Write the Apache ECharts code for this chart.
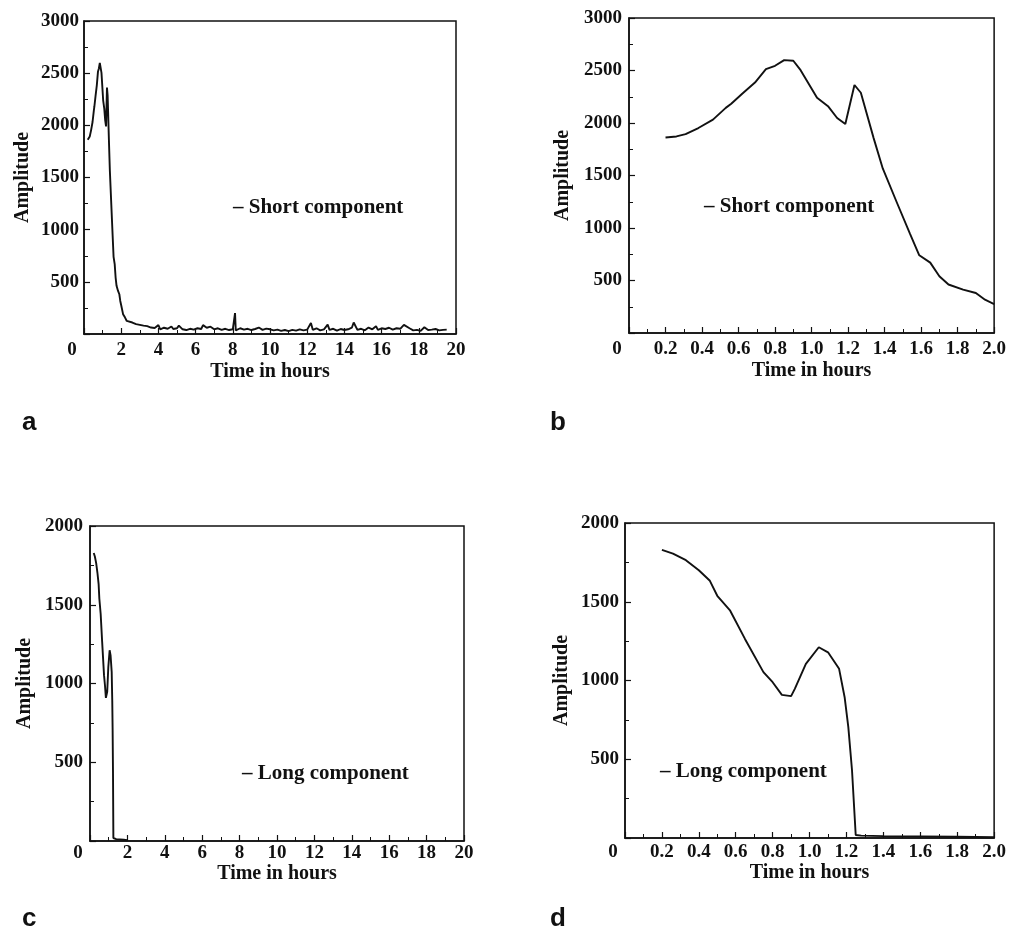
<!DOCTYPE html>
<html>
<head>
<meta charset="utf-8">
<script src="https://cdn.jsdelivr.net/npm/echarts@6/dist/echarts.min.js"></script>
<style>
  html, body { margin: 0; padding: 0; background: #ffffff; }
  #chart { width: 1009px; height: 929px; }
</style>
</head>
<body>
<div id="chart"></div>
<script>
// ---- Short component, first two hours (panel b, start of panel a) ----
const shortTime = [0.20, 0.26, 0.31, 0.38, 0.46, 0.53, 0.56, 0.62, 0.69, 0.75, 0.80, 0.85, 0.90, 0.94, 1.03, 1.09, 1.14, 1.185, 1.235, 1.27, 1.34, 1.39, 1.47, 1.54, 1.59, 1.65, 1.70, 1.75, 1.83, 1.90, 1.95, 2.00];
const shortAmp  = [1862, 1872, 1894, 1952, 2032, 2144, 2183, 2279, 2385, 2513, 2545, 2599, 2593, 2503, 2240, 2160, 2048, 1990, 2362, 2288, 1856, 1567, 1231, 942, 740, 670, 541, 462, 413, 381, 317, 276];

// ---- Short component, remaining hours (panel a) ----
const tailTime = [2.1, 2.2, 2.3, 2.4, 2.6, 2.8, 3.0, 3.2, 3.4, 3.6, 3.8, 4.0, 4.1, 4.3, 4.5, 4.7, 4.8, 5.0, 5.1, 5.3,
                  5.5, 5.7, 5.9, 6.1, 6.3, 6.4, 6.6, 6.8, 7.0, 7.2, 7.4, 7.6, 7.8, 8.0, 8.08, 8.12, 8.16, 8.4, 8.6, 8.8,
                  9.0, 9.2, 9.4, 9.6, 9.8, 10.0, 10.2, 10.4, 10.6, 10.8, 11.0, 11.2, 11.4, 11.6, 11.8, 12.0, 12.2, 12.3, 12.5, 12.7,
                  12.9, 13.1, 13.2, 13.4, 13.6, 13.8, 14.0, 14.2, 14.4, 14.5, 14.7, 14.9, 15.1, 15.3, 15.5, 15.7, 15.8, 16.0, 16.2, 16.4,
                  16.6, 16.8, 17.0, 17.2, 17.3, 17.5, 17.7, 17.9, 18.1, 18.3, 18.5, 18.7, 18.9, 19.1, 19.3, 19.5];
const tailAmp  = [190, 160, 125, 135, 110, 95, 88, 80, 75, 62, 58, 85, 45, 60, 50, 72, 48, 55, 80, 45,
                  38, 50, 42, 55, 48, 85, 60, 70, 45, 55, 40, 50, 38, 45, 40, 200, 35, 55, 42, 50,
                  38, 48, 62, 40, 52, 45, 35, 42, 30, 38, 28, 40, 32, 45, 35, 42, 105, 40, 55, 35,
                  45, 90, 40, 50, 32, 48, 38, 45, 60, 110, 40, 50, 35, 62, 45, 75, 40, 55, 48, 60,
                  42, 55, 50, 88, 70, 55, 35, 40, 30, 65, 38, 42, 48, 35, 40, 42];

// ---- Long component (panels c and d) ----
const longTime = [0.20, 0.26, 0.33, 0.40, 0.46, 0.50, 0.57, 0.65, 0.75, 0.80, 0.85, 0.90, 0.92, 0.98, 1.05, 1.10, 1.16, 1.19, 1.21, 1.23, 1.25, 1.28, 1.40, 1.60, 1.80, 2.00];
const longAmp  = [1829, 1806, 1764, 1700, 1633, 1538, 1443, 1264, 1053, 989, 909, 901, 947, 1106, 1211, 1179, 1074, 894, 704, 430, 19, 15, 12, 10, 8, 5];

const panelLetters = ['a', 'b', 'c', 'd'];
const legendTexts = ['– Short component', '– Short component', '– Long component', '– Long component'];
const xTitle = 'Time in hours';
const yTitle = 'Amplitude';

function zip(xs, ys) { return xs.map((x, i) => [x, ys[i]]); }

const SERIF = '"Liberation Serif", "DejaVu Serif", serif';
const INK = '#111111';

const grids = [
  { left: 84, top: 21, width: 372, height: 313 },
  { left: 629, top: 18, width: 370, height: 315 },
  { left: 90, top: 526, width: 374, height: 315 },
  { left: 625, top: 523, width: 372, height: 315 }
];

function xAxisCfg(i, max, interval, decimals, nameGap, margin) {
  return {
    type: 'value', gridIndex: i, min: 0, max: max, interval: interval,
    name: xTitle, nameLocation: 'middle', nameGap: nameGap,
    nameTextStyle: { fontFamily: SERIF, fontSize: 20, fontWeight: 'bold', color: INK },
    axisLine: { show: true, lineStyle: { color: INK, width: 1.5 } },
    axisTick: { show: true, inside: true, length: 6, lineStyle: { color: INK, width: 1.2 } },
    minorTick: { show: true, splitNumber: 2, length: 4, lineStyle: { color: INK, width: 1 } },
    splitLine: { show: false },
    axisLabel: {
      show: true, margin: margin, showMinLabel: true, showMaxLabel: true, hideOverlap: false,
      fontFamily: SERIF, fontSize: 19, fontWeight: 'bold', color: INK,
      formatter: function (v) {
        if (Math.abs(v) < 1e-9) return '{z|0}';
        return decimals ? v.toFixed(decimals) : String(Math.round(v));
      },
      rich: { z: { fontFamily: SERIF, fontSize: 19, fontWeight: 'bold', color: INK, padding: [0, 24, 0, 0] } }
    }
  };
}

function yAxisCfg(i, max, nameGap, margin) {
  return {
    type: 'value', gridIndex: i, min: 0, max: max, interval: 500,
    name: yTitle, nameLocation: 'middle', nameGap: nameGap, nameRotate: 90,
    nameTextStyle: { fontFamily: SERIF, fontSize: 20, fontWeight: 'bold', color: INK },
    axisLine: { show: true, lineStyle: { color: INK, width: 1.5 } },
    axisTick: { show: true, inside: true, length: 6, lineStyle: { color: INK, width: 1.2 } },
    minorTick: { show: true, splitNumber: 2, length: 4, lineStyle: { color: INK, width: 1 } },
    splitLine: { show: false },
    axisLabel: {
      show: true, margin: margin, showMinLabel: true, showMaxLabel: true,
      fontFamily: SERIF, fontSize: 19, fontWeight: 'bold', color: INK,
      formatter: function (v) { return v === 0 ? '' : String(v); }
    }
  };
}

function lineSeries(i, data) {
  return {
    type: 'line', xAxisIndex: i, yAxisIndex: i, data: data,
    showSymbol: false, symbol: 'none', smooth: false, animation: false,
    lineStyle: { color: INK, width: 1.9 }
  };
}

const letterPos = [[22, 424], [550, 424], [22, 920], [550, 920]];
const legendPos = [[233, 209], [704, 208], [242, 775], [660, 773]];

const graphics = [];
panelLetters.forEach((t, i) => {
  graphics.push({
    type: 'text', left: letterPos[i][0], top: letterPos[i][1] - 14,
    style: { text: t, font: 'bold 26px "Liberation Sans", Arial, sans-serif', fill: INK }
  });
});
legendTexts.forEach((t, i) => {
  graphics.push({
    type: 'text', left: legendPos[i][0], top: legendPos[i][1] - 12,
    style: { text: t, font: 'bold 21px ' + SERIF, fill: INK }
  });
});

const option = {
  backgroundColor: '#ffffff',
  animation: false,
  grid: grids.map(g => Object.assign({ show: true, borderColor: INK, borderWidth: 1.5, backgroundColor: 'transparent', containLabel: false }, g)),
  xAxis: [
    xAxisCfg(0, 20, 2, 0, 28, 7),
    xAxisCfg(1, 2, 0.2, 1, 28, 7),
    xAxisCfg(2, 20, 2, 0, 22, 3),
    xAxisCfg(3, 2, 0.2, 1, 22, 5)
  ],
  yAxis: [
    yAxisCfg(0, 3000, 51, 5),
    yAxisCfg(1, 3000, 56, 7),
    yAxisCfg(2, 2000, 55, 7),
    yAxisCfg(3, 2000, 53, 6)
  ],
  series: [
    lineSeries(0, zip(shortTime.concat(tailTime), shortAmp.concat(tailAmp))),
    lineSeries(1, zip(shortTime, shortAmp)),
    lineSeries(2, zip(longTime, longAmp)),
    lineSeries(3, zip(longTime, longAmp))
  ],
  graphic: graphics
};

const chart = echarts.init(document.getElementById('chart'), null, { renderer: 'canvas' });
chart.setOption(option);
</script>
</body>
</html>
